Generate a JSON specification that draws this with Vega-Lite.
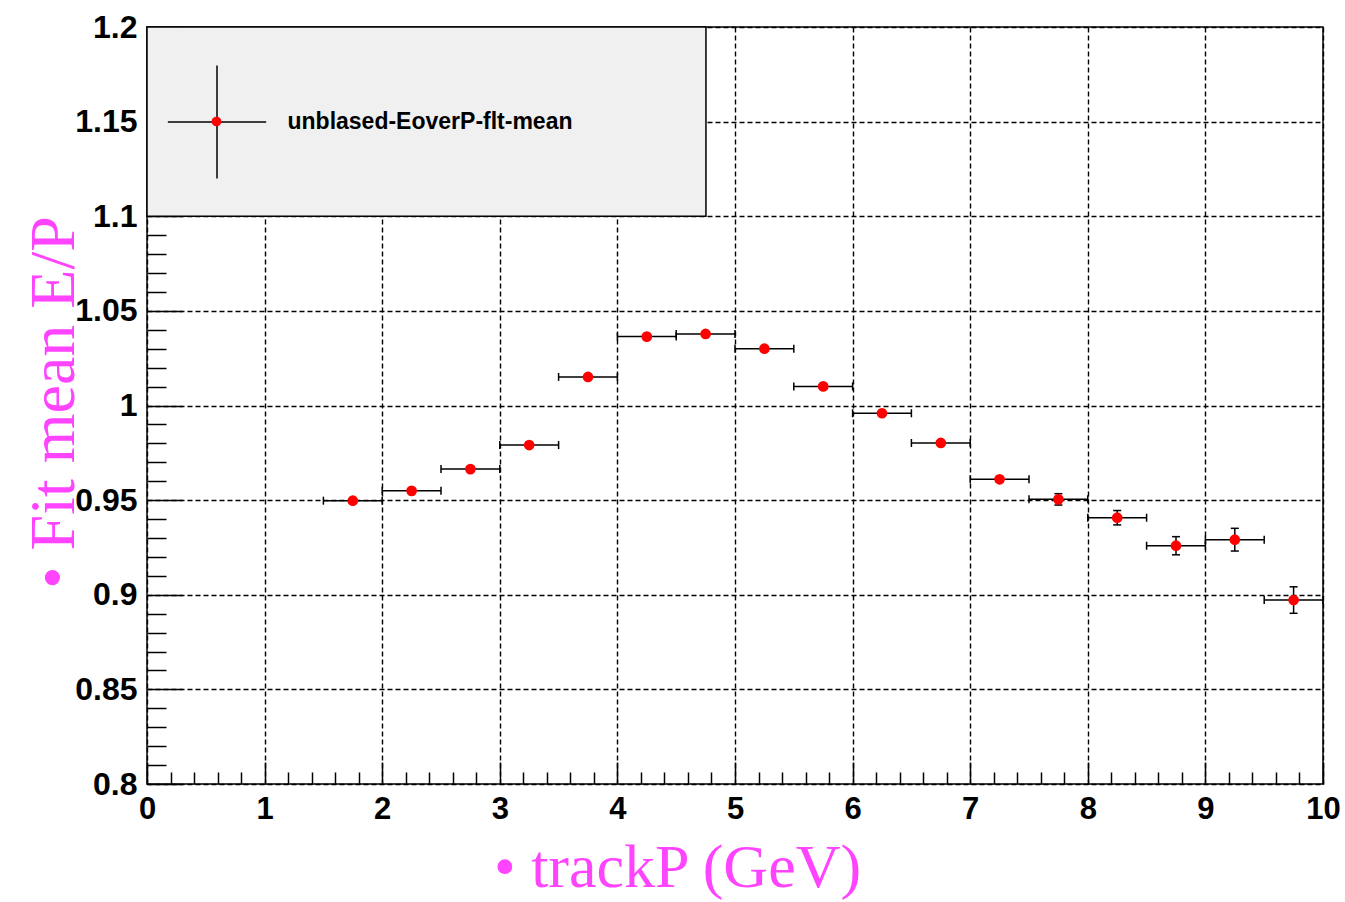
{
  "$schema": "https://vega.github.io/schema/vega-lite/v6.json",
  "width": 1176,
  "height": 757,
  "autosize": {"type": "none"},
  "padding": {"left": 147, "top": 27, "right": 22, "bottom": 118},
  "background": "white",
  "config": {
    "view": {"stroke": "black", "strokeWidth": 1.5, "fill": "white"}
  },
  "data": {
    "values": [
      {"x": 1.75, "xlo": 1.5, "xhi": 2.0, "y": 0.9497, "ylo": 0.9487, "yhi": 0.9507, "series": "unblased-EoverP-flt-mean", "marker": "unblased-EoverP-flt-mean"},
      {"x": 2.25, "xlo": 2.0, "xhi": 2.5, "y": 0.9549, "ylo": 0.9539, "yhi": 0.9559, "series": "unblased-EoverP-flt-mean", "marker": "unblased-EoverP-flt-mean"},
      {"x": 2.75, "xlo": 2.5, "xhi": 3.0, "y": 0.9664, "ylo": 0.9654, "yhi": 0.9674, "series": "unblased-EoverP-flt-mean", "marker": "unblased-EoverP-flt-mean"},
      {"x": 3.25, "xlo": 3.0, "xhi": 3.5, "y": 0.9791, "ylo": 0.9781, "yhi": 0.9801, "series": "unblased-EoverP-flt-mean", "marker": "unblased-EoverP-flt-mean"},
      {"x": 3.75, "xlo": 3.5, "xhi": 4.0, "y": 1.0151, "ylo": 1.0141, "yhi": 1.0161, "series": "unblased-EoverP-flt-mean", "marker": "unblased-EoverP-flt-mean"},
      {"x": 4.25, "xlo": 4.0, "xhi": 4.5, "y": 1.0364, "ylo": 1.0354, "yhi": 1.0374, "series": "unblased-EoverP-flt-mean", "marker": "unblased-EoverP-flt-mean"},
      {"x": 4.75, "xlo": 4.5, "xhi": 5.0, "y": 1.0378, "ylo": 1.0368, "yhi": 1.0388, "series": "unblased-EoverP-flt-mean", "marker": "unblased-EoverP-flt-mean"},
      {"x": 5.25, "xlo": 5.0, "xhi": 5.5, "y": 1.03, "ylo": 1.029, "yhi": 1.031, "series": "unblased-EoverP-flt-mean", "marker": "unblased-EoverP-flt-mean"},
      {"x": 5.75, "xlo": 5.5, "xhi": 6.0, "y": 1.0101, "ylo": 1.0091, "yhi": 1.0111, "series": "unblased-EoverP-flt-mean", "marker": "unblased-EoverP-flt-mean"},
      {"x": 6.25, "xlo": 6.0, "xhi": 6.5, "y": 0.9959, "ylo": 0.9949, "yhi": 0.9969, "series": "unblased-EoverP-flt-mean", "marker": "unblased-EoverP-flt-mean"},
      {"x": 6.75, "xlo": 6.5, "xhi": 7.0, "y": 0.9802, "ylo": 0.979, "yhi": 0.9814, "series": "unblased-EoverP-flt-mean", "marker": "unblased-EoverP-flt-mean"},
      {"x": 7.25, "xlo": 7.0, "xhi": 7.5, "y": 0.961, "ylo": 0.9597, "yhi": 0.9623, "series": "unblased-EoverP-flt-mean", "marker": "unblased-EoverP-flt-mean"},
      {"x": 7.75, "xlo": 7.5, "xhi": 8.0, "y": 0.9504, "ylo": 0.9474, "yhi": 0.9534, "series": "unblased-EoverP-flt-mean", "marker": "unblased-EoverP-flt-mean"},
      {"x": 8.25, "xlo": 8.0, "xhi": 8.5, "y": 0.9407, "ylo": 0.9369, "yhi": 0.9445, "series": "unblased-EoverP-flt-mean", "marker": "unblased-EoverP-flt-mean"},
      {"x": 8.75, "xlo": 8.5, "xhi": 9.0, "y": 0.9259, "ylo": 0.9211, "yhi": 0.9307, "series": "unblased-EoverP-flt-mean", "marker": "unblased-EoverP-flt-mean"},
      {"x": 9.25, "xlo": 9.0, "xhi": 9.5, "y": 0.9291, "ylo": 0.9231, "yhi": 0.9351, "series": "unblased-EoverP-flt-mean", "marker": "unblased-EoverP-flt-mean"},
      {"x": 9.75, "xlo": 9.5, "xhi": 10.0, "y": 0.8972, "ylo": 0.8902, "yhi": 0.9042, "series": "unblased-EoverP-flt-mean", "marker": "unblased-EoverP-flt-mean"}
    ]
  },
  "layer": [
    {
      "mark": {"type": "rule", "color": "black", "strokeWidth": 1.5},
      "encoding": {
        "x": {
          "field": "xlo", "type": "quantitative",
          "scale": {"domain": [0, 10], "nice": false, "zero": false},
          "axis": {
            "values": [0,0.2,0.4,0.6,0.8,1,1.2,1.4,1.6,1.8,2,2.2,2.4,2.6,2.8,3,3.2,3.4,3.6,3.8,4,4.2,4.4,4.6,4.8,5,5.2,5.4,5.6,5.8,6,6.2,6.4,6.6,6.8,7,7.2,7.4,7.6,7.8,8,8.2,8.4,8.6,8.8,9,9.2,9.4,9.6,9.8,10],
            "tickCount": 200,
            "labelExpr": "abs(datum.value-round(datum.value))<1e-6 ? format(datum.value,'d') : ''",
            "labelFont": "Liberation Sans", "labelFontWeight": "bold", "labelFontSize": 31, "labelColor": "black",
            "labelPadding": 32, "labelFlush": false, "labelOverlap": false, "labelBaseline": "top",
            "domain": false,
            "ticks": true, "tickColor": "black", "tickWidth": 1.5,
            "tickSize": {"condition": {"test": "abs(datum.value-round(datum.value))<1e-6", "value": -22}, "value": -12},
            "grid": true, "gridColor": "black", "gridDash": [5, 3], "gridWidth": 1.4,
            "gridOpacity": {"condition": {"test": "abs(datum.value-round(datum.value))<1e-6", "value": 1}, "value": 0},
            "title": "• trackP (GeV)",
            "titleFont": "Liberation Serif", "titleFontSize": 62, "titleFontWeight": "normal", "titleColor": "#ff44ff",
            "titleX": 530, "titleY": 102, "titleAlign": "center", "titleBaseline": "alphabetic"
          }
        },
        "x2": {"field": "xhi"},
        "y": {
          "field": "y", "type": "quantitative",
          "scale": {"domain": [0.8, 1.2], "nice": false, "zero": false},
          "axis": {
            "values": [0.8,0.81,0.82,0.83,0.84,0.85,0.86,0.87,0.88,0.89,0.9,0.91,0.92,0.93,0.94,0.95,0.96,0.97,0.98,0.99,1,1.01,1.02,1.03,1.04,1.05,1.06,1.07,1.08,1.09,1.1,1.11,1.12,1.13,1.14,1.15,1.16,1.17,1.18,1.19,1.2],
            "tickCount": 200,
            "labelExpr": "abs(datum.value*20-round(datum.value*20))<1e-6 ? format(datum.value,'~g') : ''",
            "labelFont": "Liberation Sans", "labelFontWeight": "bold", "labelFontSize": 32, "labelColor": "black",
            "labelPadding": 45, "labelFlush": false, "labelOverlap": false,
            "domain": false,
            "ticks": true, "tickColor": "black", "tickWidth": 1.5,
            "tickSize": {"condition": {"test": "abs(datum.value*20-round(datum.value*20))<1e-6", "value": -35}, "value": -19},
            "grid": true, "gridColor": "black", "gridDash": [5, 3], "gridWidth": 1.4,
            "gridOpacity": {"condition": {"test": "abs(datum.value*20-round(datum.value*20))<1e-6", "value": 1}, "value": 0},
            "title": "• Fit mean E/P",
            "titleFont": "Liberation Serif", "titleFontSize": 64, "titleFontWeight": "normal", "titleColor": "#ff44ff",
            "titleAngle": 270, "titleX": -74, "titleY": 375, "titleAlign": "center", "titleBaseline": "alphabetic"
          }
        }
      }
    },
    {
      "data": {"values": [{"box": "legend"}]},
      "mark": {"type": "rect", "fill": "#f0f0f0", "stroke": "black", "strokeWidth": 1.5},
      "encoding": {
        "x": {"datum": 0, "type": "quantitative"},
        "x2": {"datum": 4.753},
        "y": {"datum": 1.1, "type": "quantitative"},
        "y2": {"datum": 1.2}
      }
    },
    {
      "mark": {"type": "rule", "strokeWidth": 1.5},
      "encoding": {
        "x": {"field": "x", "type": "quantitative"},
        "y": {"field": "ylo", "type": "quantitative"},
        "y2": {"field": "yhi"},
        "color": {
          "field": "series", "type": "nominal", "scale": {"range": ["black"]},
          "legend": {
            "title": null, "orient": "none", "legendX": 12.5, "legendY": 37.5, "padding": 0,
            "symbolType": "M-0.87,0H0.87M0,-1V1", "symbolSize": 12769, "symbolStrokeWidth": 1.5,
            "labelFont": "Liberation Sans", "labelFontWeight": "bold", "labelFontSize": 23, "labelColor": "black",
            "labelOffset": 13, "labelLimit": 600, "zindex": 1,
            "encode": {"symbols": {"update": {
              "shape": {"value": "M-0.87,0H0.87M0,-1V1"}, "size": {"value": 12769},
              "fill": {"value": "transparent"}, "stroke": {"value": "black"}, "strokeWidth": {"value": 1.5}, "opacity": {"value": 1}}}}
          }
        }
      }
    },
    {
      "mark": {"type": "tick", "orient": "vertical", "color": "black", "size": 8, "thickness": 1.5, "opacity": 1},
      "encoding": {
        "x": {"field": "xlo", "type": "quantitative"},
        "y": {"field": "y", "type": "quantitative"}
      }
    },
    {
      "mark": {"type": "tick", "orient": "vertical", "color": "black", "size": 8, "thickness": 1.5, "opacity": 1},
      "encoding": {
        "x": {"field": "xhi", "type": "quantitative"},
        "y": {"field": "y", "type": "quantitative"}
      }
    },
    {
      "mark": {"type": "tick", "orient": "horizontal", "color": "black", "size": 8, "thickness": 1.5, "opacity": 1},
      "encoding": {
        "x": {"field": "x", "type": "quantitative"},
        "y": {"field": "ylo", "type": "quantitative"}
      }
    },
    {
      "mark": {"type": "tick", "orient": "horizontal", "color": "black", "size": 8, "thickness": 1.5, "opacity": 1},
      "encoding": {
        "x": {"field": "x", "type": "quantitative"},
        "y": {"field": "yhi", "type": "quantitative"}
      }
    },
    {
      "mark": {"type": "point", "filled": true, "size": 115, "opacity": 1, "strokeWidth": 0, "color": "#ff0000"},
      "encoding": {
        "x": {"field": "x", "type": "quantitative"},
        "y": {"field": "y", "type": "quantitative"},
        "shape": {
          "field": "marker", "type": "nominal", "scale": {"range": ["circle"]},
          "legend": {
            "title": null, "orient": "none", "legendX": 63.5, "legendY": 88.5, "padding": 0,
            "symbolSize": 95, "labelExpr": "''", "labelFontSize": 1, "labelOffset": 0, "zindex": 2,
            "encode": {"symbols": {"update": {"size": {"value": 95}, "fill": {"value": "#ff0000"}, "stroke": {"value": "transparent"}, "opacity": {"value": 1}}}}
          }
        }
      }
    }
  ]
}
